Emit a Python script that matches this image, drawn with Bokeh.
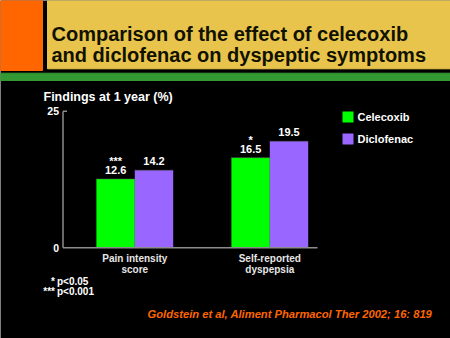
from bokeh.plotting import figure
from bokeh.models import Range1d, ColumnDataSource
from bokeh.core.properties import value
from bokeh.embed import file_html
from bokeh.resources import INLINE
from bokeh.transform import dodge

# ---------------- data ----------------
title_lines = ["Comparison of the effect of celecoxib",
               "and diclofenac on dyspeptic symptoms"]
categories = ["Pain intensity\nscore", "Self-reported\ndyspepsia"]
series = ["Celecoxib", "Diclofenac"]
celecoxib = [12.6, 16.5]
diclofenac = [14.2, 19.5]
significance = ["***", "*"]
y_ticks = [0, 25]
y_label = "Findings at 1 year (%)"
footnote_marks = ["*", "***"]
footnote_texts = ["p<0.05", "p<0.001"]
citation = "Goldstein et al, Aliment Pharmacol Ther 2002; 16: 819"

# ---------------- style / geometry ----------------
colors = ["#00FF00", "#9966FF"]
ORANGE = "#FF6600"
YELLOW = "#E8C44C"
STRIPE = "#339933"
AXIS = "#8C8C8C"
FONT = "Liberation Sans"

W, H = 450, 338
AX_LEFT, AX_RIGHT = 62.5, 317.0      # pixel extent of the x axis
Y0_PX, YTOP_PX = 247.3, 110.7        # pixel rows of the first / last tick
G0_PX, G1_PX = 134.3, 269.3          # pixel centres of the two groups
BAR_PX = 38.4

px_per_val = (Y0_PX - YTOP_PX) / (y_ticks[-1] - y_ticks[0])
px_per_grp = G1_PX - G0_PX
val_range = Range1d(-(H - Y0_PX) / px_per_val, Y0_PX / px_per_val)
grp_range = Range1d(-G0_PX / px_per_grp, (W - G0_PX) / px_per_grp)


def gx(px):
    return (px - G0_PX) / px_per_grp


BAR_W = BAR_PX / px_per_grp

p = figure(width=W, height=H, x_range=Range1d(0, W), y_range=Range1d(H, 0),
           output_backend="svg", toolbar_location=None,
           x_axis_location=None, y_axis_location=None, min_border=0,
           background_fill_color="black", border_fill_color="black",
           outline_line_color=None)
p.grid.visible = False
p.extra_x_ranges = {"g": grp_range}
p.extra_y_ranges = {"v": val_range}

# ---------------- header ----------------
p.quad(left=[0], right=[42], top=[0], bottom=[70], color=ORANGE)
p.quad(left=[47], right=[W], top=[0], bottom=[68.3], color=YELLOW)
p.quad(left=[0], right=[W], top=[72.7], bottom=[80], color=STRIPE)
p.text(x=[51, 51], y=[33, 54.5], text=title_lines,
       text_font=value(FONT), text_font_style="bold", text_font_size="20px",
       text_color="#111100", text_baseline="middle", text_align="left")

# ---------------- axes ----------------
p.text(x=[43], y=[96], text=[y_label], text_font=value(FONT),
       text_font_style="bold", text_font_size="12.5px", text_color="white",
       text_baseline="middle", text_align="left")

src = ColumnDataSource(dict(
    g=list(range(len(categories))),
    cel=celecoxib, dic=diclofenac,
    cel_lbl=[f"{v:.1f}" for v in celecoxib],
    dic_lbl=[f"{v:.1f}" for v in diclofenac],
    sig=significance,
    line1=[c.split("\n")[0] for c in categories],
    line2=[c.split("\n")[1] for c in categories],
))

p.vbar(x=dodge("g", -BAR_W / 2), top="cel", bottom=0, width=BAR_W,
       fill_color=colors[0], line_color=None, source=src,
       x_range_name="g", y_range_name="v")
p.vbar(x=dodge("g", BAR_W / 2), top="dic", bottom=0, width=BAR_W,
       fill_color=colors[1], line_color=None, source=src,
       x_range_name="g", y_range_name="v")

# dotted bar tops
p.segment(x0=dodge("g", -BAR_W), x1=dodge("g", 0), y0="cel", y1="cel",
          line_color="#5a5a5a", line_dash="1 1", line_width=1, source=src,
          x_range_name="g", y_range_name="v")
p.segment(x0=dodge("g", 0), x1=dodge("g", BAR_W), y0="dic", y1="dic",
          line_color="#5a5a5a", line_dash="1 1", line_width=1, source=src,
          x_range_name="g", y_range_name="v")

# axis lines and tick
p.segment(x0=[gx(AX_LEFT)], x1=[gx(AX_RIGHT)], y0=[y_ticks[0]], y1=[y_ticks[0]],
          line_color=AXIS, line_width=1.5, x_range_name="g", y_range_name="v")
p.segment(x0=[gx(AX_LEFT)], x1=[gx(AX_LEFT)], y0=[y_ticks[0]], y1=[y_ticks[-1]],
          line_color=AXIS, line_width=1.5, x_range_name="g", y_range_name="v")
p.segment(x0=[gx(AX_LEFT)], x1=[gx(AX_LEFT + 4)], y0=[y_ticks[-1]], y1=[y_ticks[-1]],
          line_color=AXIS, line_width=1.5, x_range_name="g", y_range_name="v")
p.text(x=[gx(AX_LEFT - 4)] * len(y_ticks), y=y_ticks, text=[str(t) for t in y_ticks],
       text_font=value(FONT), text_font_style="bold", text_font_size="10.5px",
       text_color="white", text_align="right", text_baseline="middle",
       x_range_name="g", y_range_name="v")

# value labels and significance
lbl = dict(text_font=value(FONT), text_font_style="bold", text_font_size="11px",
           text_color="white", text_align="center", text_baseline="middle",
           source=src, x_range_name="g", y_range_name="v")
p.text(x=dodge("g", -BAR_W / 2), y="cel", text="cel_lbl", y_offset=-9, **lbl)
p.text(x=dodge("g", BAR_W / 2), y="dic", text="dic_lbl", y_offset=-9, **lbl)
p.text(x=dodge("g", -BAR_W / 2), y="cel", text="sig", y_offset=-17.5, **lbl)

# category labels
cat = dict(text_font=value(FONT), text_font_style="bold", text_font_size="10px",
           text_color="#E6E6E6", text_align="center", text_baseline="middle",
           source=src, x_range_name="g", y_range_name="v")
p.text(x="g", y=0, text="line1", y_offset=11, **cat)
p.text(x="g", y=0, text="line2", y_offset=21.7, **cat)

# ---------------- legend ----------------
LEG_X, LEG_Y, LEG_STEP, SW = 342, 111, 22, 11
ly = [LEG_Y + i * LEG_STEP + SW / 2 for i in range(len(series))]
p.rect(x=[LEG_X + SW / 2] * len(series), y=ly, width=SW, height=SW,
       fill_color=colors, line_color=None)
p.text(x=[LEG_X + SW + 4] * len(series), y=ly, text=series,
       text_font=value(FONT), text_font_style="bold", text_font_size="11px",
       text_color="white", text_align="left", text_baseline="middle")

# ---------------- footnotes ----------------
fy = [281, 291]
p.text(x=[54.5] * 2, y=fy, text=footnote_marks, text_font=value(FONT),
       text_font_style="bold", text_font_size="10px", text_color="white",
       text_align="right", text_baseline="middle")
p.text(x=[56.5] * 2, y=fy, text=footnote_texts, text_font=value(FONT),
       text_font_style="bold", text_font_size="10px", text_color="white",
       text_align="left", text_baseline="middle")
p.text(x=[147], y=[313], text=[citation], text_font=value(FONT),
       text_font_style="bold italic", text_font_size="11.2px", text_color=ORANGE,
       text_align="left", text_baseline="middle")

open("out.html", "w").write(file_html(p, INLINE))
